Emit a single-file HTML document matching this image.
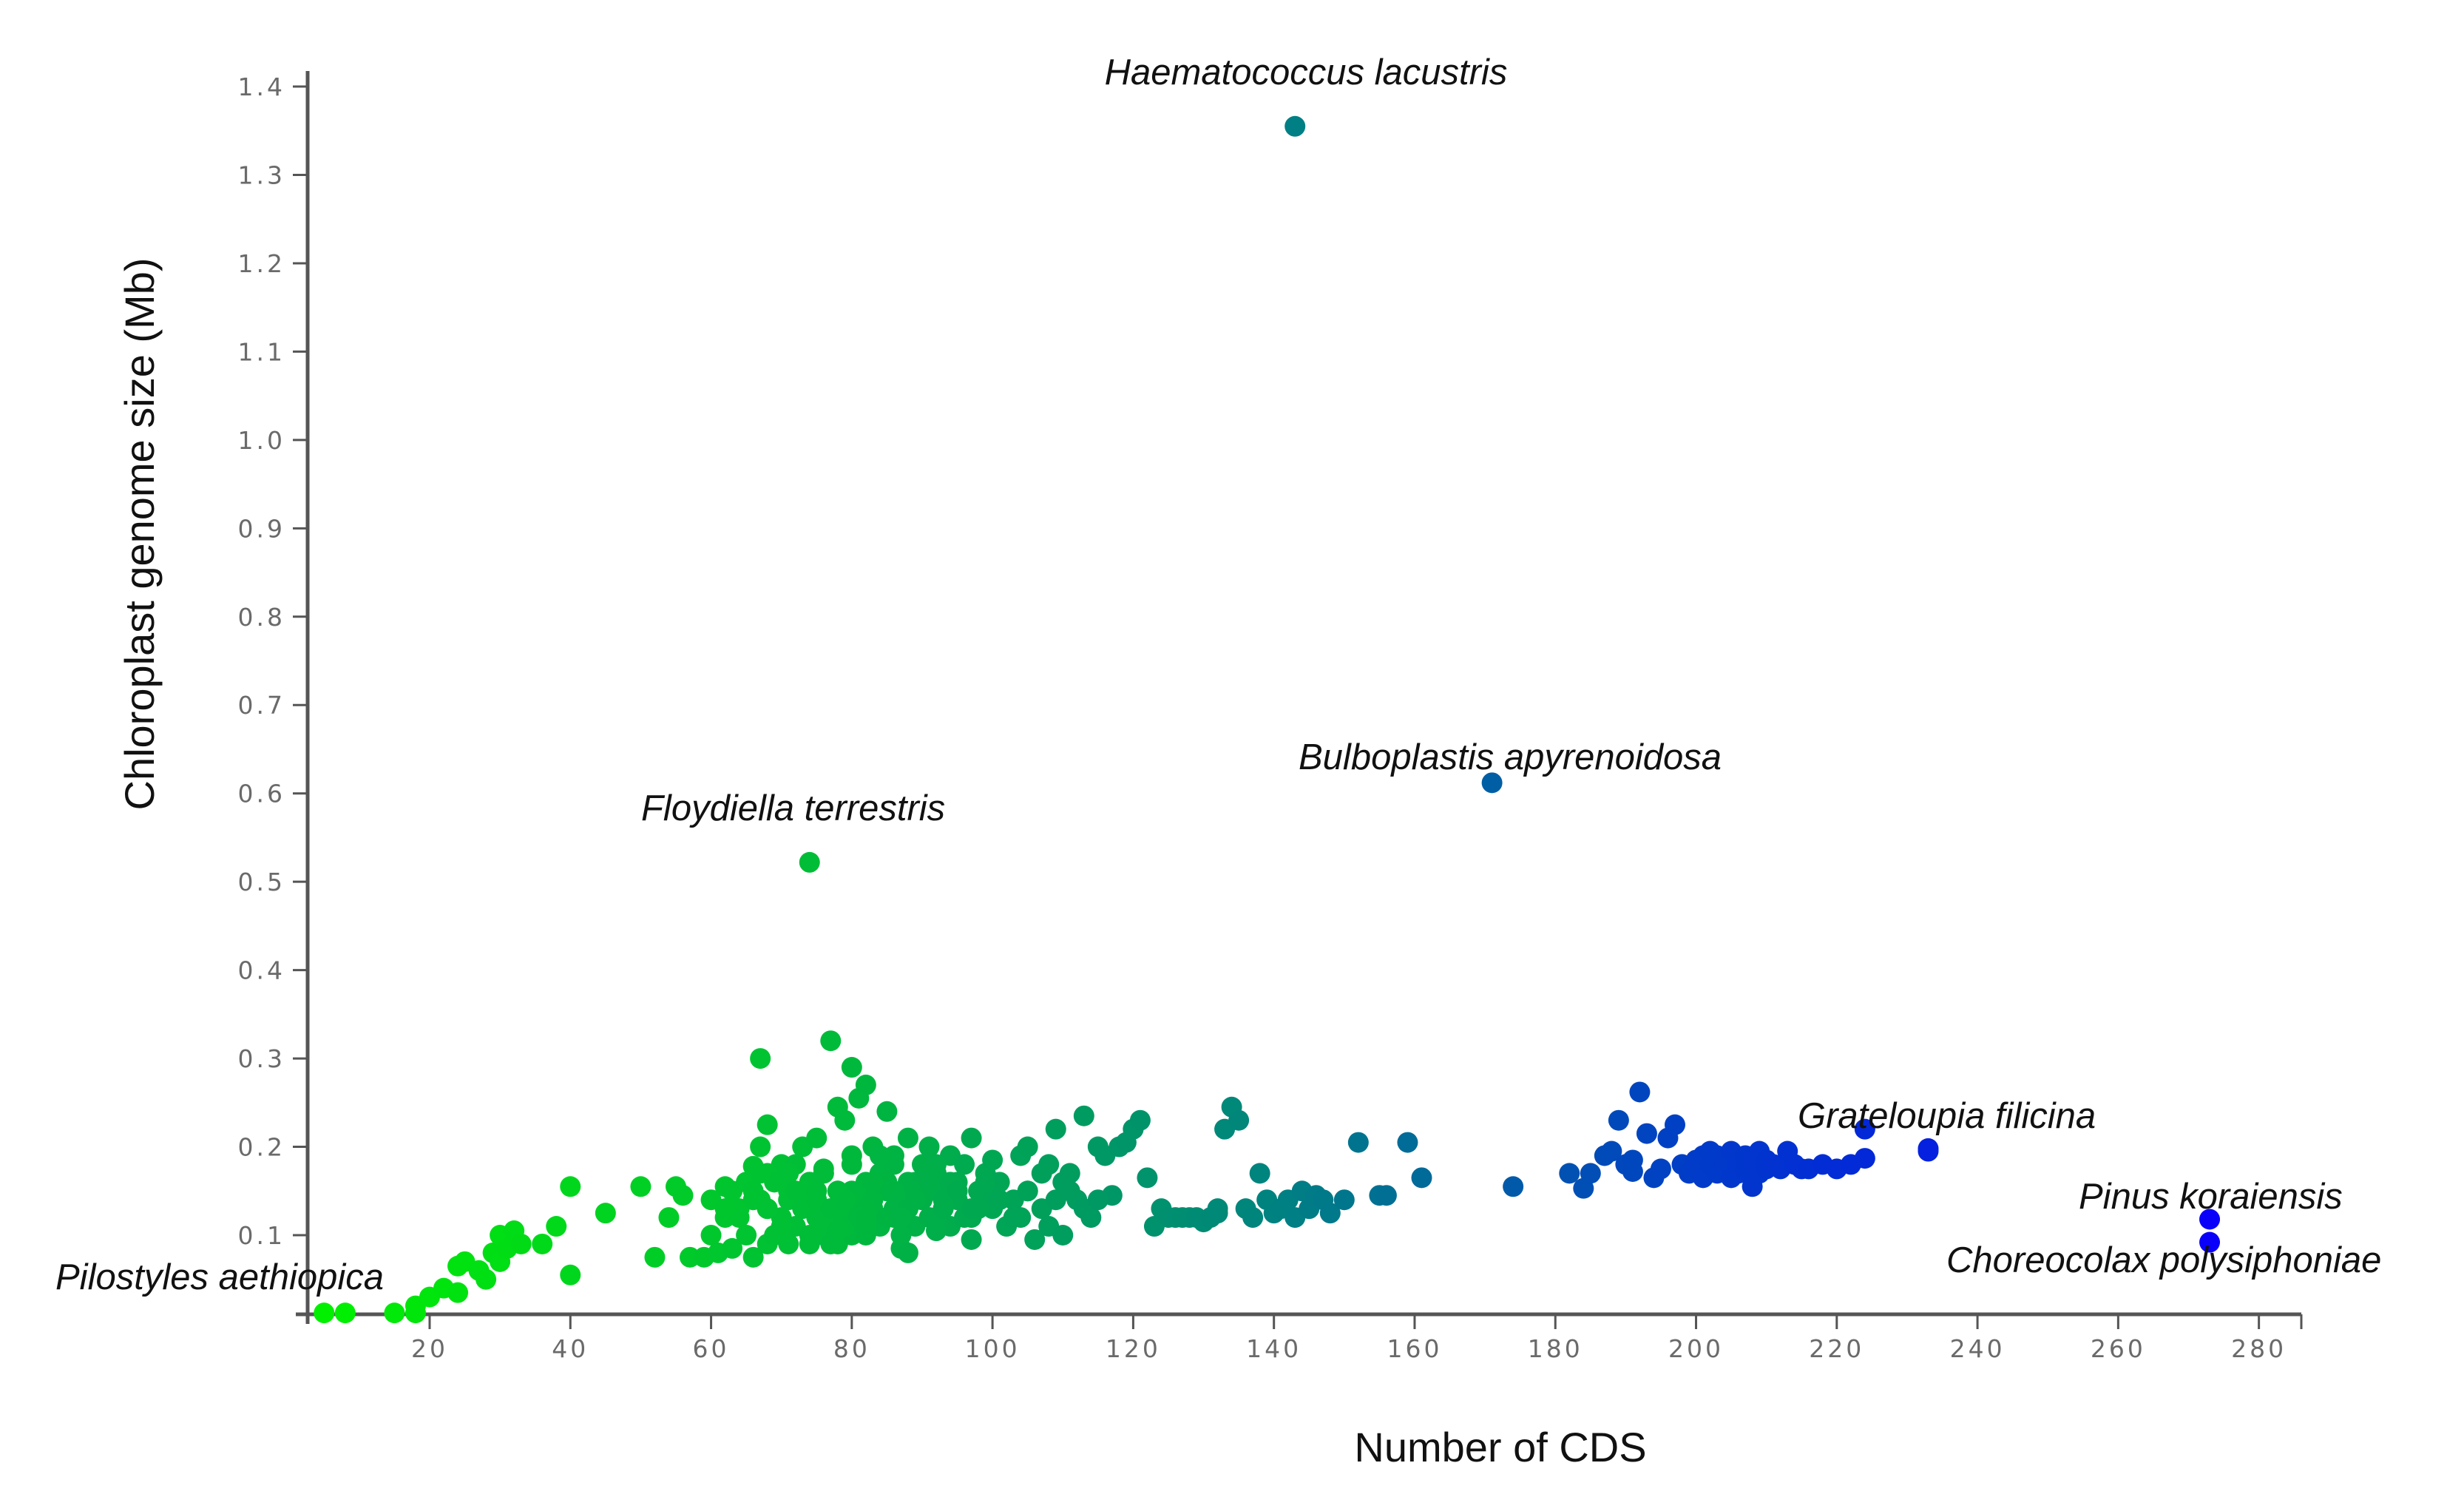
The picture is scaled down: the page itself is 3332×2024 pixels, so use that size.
<!DOCTYPE html>
<html><head><meta charset="utf-8">
<style>
html,body{margin:0;padding:0;background:#fff;}
svg{display:block;}
.tick{font-family:"DejaVu Sans","Liberation Sans",sans-serif;font-size:33px;fill:#6a6a6a;letter-spacing:4px;}
.ann{font-family:"Liberation Sans",sans-serif;font-style:italic;font-size:49px;fill:#111;}
.title{font-family:"Liberation Sans",sans-serif;font-size:56px;fill:#111;}
</style></head>
<body>
<svg id="chart" width="3332" height="2024" viewBox="0 0 3332 2024">
<g id="axes"></g>
<g id="points"></g>
<g id="labels"></g>
</svg>
<script>
const xTicks=[20,40,60,80,100,120,140,160,180,200,220,240,260,280];
const yTicks=[0.1,0.2,0.3,0.4,0.5,0.6,0.7,0.8,0.9,1.0,1.1,1.2,1.3,1.4];
const cdsX=[143,171,74,273,273,224,224,233,233,
5,8,15,18,18,20,22,24,24,25,27,28,29,30,30,31,32,33,36,38,40,40,45,50,52,54,55,56,57,59,60,60,61,62,62,63,64,65,65,66,66,67,67,68,68,68,69,69,70,70,71,71,72,72,73,73,74,74,75,75,76,76,77,77,78,78,78,79,79,80,80,80,81,81,82,82,82,83,83,84,84,85,85,86,86,87,87,88,88,89,89,90,90,91,91,92,92,93,94,94,95,95,96,97,97,98,99,100,100,101,102,103,104,104,105,105,106,107,108,108,109,110,110,111,112,113,114,115,116,117,118,119,120,120,121,122,123,124,125,126,127,128,129,130,131,132,132,133,134,135,136,137,138,139,140,141,142,143,144,145,146,147,148,150,152,155,156,159,161,174,182,184,185,187,188,189,190,191,191,192,193,194,195,196,197,198,199,200,200,201,201,202,202,203,203,204,204,205,205,206,206,207,207,208,208,209,209,210,210,211,212,213,214,215,216,218,220,222,66,70,72,76,78,80,84,86,88,92,96,100,68,74,82,90,94,98,63,65,67,71,75,77,79,81,83,85,87,89,91,93,95,97,99,101,103,105,107,109,111,113,115,
64,66,68,70,72,74,76,78,80,82,84,86,88,90,92,69,73,77,81,85,89,93,71,75,79,83,87,91,95,62,67,72,77,82,87,92,97,74,78,82,86,80,84,76,88];
const sizeY=[1.355,0.612,0.522,0.118,0.092,0.22,0.187,0.198,0.195,
0.012,0.012,0.012,0.02,0.012,0.03,0.04,0.035,0.065,0.07,0.06,0.05,0.08,0.1,0.07,0.085,0.105,0.09,0.09,0.11,0.155,0.055,0.125,0.155,0.075,0.12,0.155,0.145,0.075,0.075,0.1,0.14,0.08,0.155,0.12,0.085,0.13,0.16,0.1,0.075,0.14,0.3,0.2,0.225,0.13,0.09,0.17,0.1,0.18,0.12,0.14,0.09,0.15,0.11,0.2,0.13,0.16,0.09,0.21,0.14,0.1,0.17,0.32,0.12,0.245,0.15,0.09,0.23,0.13,0.29,0.18,0.1,0.255,0.14,0.27,0.16,0.1,0.2,0.13,0.17,0.11,0.24,0.15,0.19,0.12,0.14,0.085,0.21,0.13,0.16,0.11,0.18,0.14,0.2,0.12,0.17,0.15,0.13,0.19,0.11,0.16,0.14,0.18,0.21,0.12,0.15,0.17,0.13,0.185,0.16,0.11,0.14,0.19,0.12,0.2,0.15,0.095,0.13,0.18,0.11,0.22,0.16,0.1,0.17,0.14,0.235,0.12,0.2,0.19,0.145,0.2,0.205,0.22,0.22,0.23,0.165,0.11,0.13,0.12,0.12,0.12,0.12,0.12,0.115,0.12,0.125,0.13,0.22,0.245,0.23,0.13,0.12,0.17,0.14,0.125,0.13,0.14,0.12,0.15,0.13,0.145,0.14,0.125,0.14,0.205,0.145,0.145,0.205,0.165,0.155,0.17,0.153,0.17,0.19,0.195,0.23,0.18,0.172,0.185,0.262,0.215,0.165,0.175,0.21,0.225,0.18,0.17,0.185,0.175,0.19,0.165,0.195,0.18,0.17,0.19,0.175,0.185,0.165,0.195,0.18,0.17,0.19,0.175,0.155,0.185,0.17,0.195,0.175,0.185,0.18,0.175,0.195,0.18,0.175,0.175,0.18,0.175,0.18,0.178,0.178,0.18,0.175,0.12,0.15,0.17,0.13,0.16,0.18,0.12,0.14,0.17,0.15,0.13,0.16,0.16,0.13,0.15,0.16,0.14,0.15,0.12,0.13,0.11,0.15,0.14,0.12,0.13,0.15,0.16,0.14,0.15,0.13,0.16,0.14,0.12,0.15,0.17,0.14,0.15,0.13,0.14,0.12,0.15,0.13,
0.11,0.15,0.16,0.12,0.15,0.14,0.13,0.16,0.15,0.13,0.14,0.12,0.16,0.15,0.13,0.12,0.16,0.14,0.13,0.17,0.15,0.14,0.16,0.12,0.17,0.15,0.13,0.17,0.15,0.09,0.11,0.10,0.105,0.095,0.10,0.105,0.12,0.18,0.19,0.19,0.17,0.08,0.09,0.095,0.1];
const annText=["Haematococcus lacustris","Bulboplastis apyrenoidosa","Floydiella terrestris","Grateloupia filicina","Pinus koraiensis","Choreocolax polysiphoniae","Pilostyles aethiopica"];
const NS="http://www.w3.org/2000/svg";
const XPU=9.514;
const YPU=1194.6;
function sx(v){return 581+(v-20)*XPU;}
function sy(v){return 1670-(v-0.1)*YPU;}
function col(x){
  const stops=[[5,[0,240,0]],[80,[0,185,60]],[140,[0,130,128]],[200,[0,60,200]],[273,[10,0,250]]];
  for(let i=0;i<stops.length-1;i++){const a=stops[i],b=stops[i+1];
    if(x<=b[0]){const t=Math.max(0,(x-a[0])/(b[0]-a[0]));const c=a[1].map((v,k)=>Math.round(v+(b[1][k]-v)*t));return `rgb(${c})`;}}
  return 'rgb(10,0,250)';
}
function mk(tag,attrs,parent,text){const e=document.createElementNS(NS,tag);for(const k in attrs)e.setAttribute(k,attrs[k]);if(text!==undefined)e.textContent=text;parent.appendChild(e);return e;}
const axes=document.getElementById('axes');
let e;
e=mk('line',{x1:416,y1:96,x2:416,y2:1790,stroke:'#555','stroke-width':5},axes);


e=mk('line',{x1:400,y1:1777,x2:3112,y2:1777,stroke:'#555','stroke-width':5},axes);


xTicks.forEach(t=>{const x=sx(t);
  e=mk('line',{x1:x,y1:1777,x2:x,y2:1797,stroke:'#555','stroke-width':3},axes);
  
  
  e=mk('text',{x:x,y:1835,'text-anchor':'middle',class:'tick'},axes,String(t));
  
  
});
e=mk('line',{x1:3112,y1:1777,x2:3112,y2:1797,stroke:'#555','stroke-width':3},axes);


yTicks.forEach(t=>{const y=sy(t);
  e=mk('line',{x1:396,y1:y,x2:416,y2:y,stroke:'#555','stroke-width':3},axes);
  
  
  e=mk('text',{x:386,y:y+12,'text-anchor':'end',class:'tick'},axes,t.toFixed(1));
  
  
});
const pts=document.getElementById('points');
for(let i=0;i<cdsX.length;i++){
  e=mk('circle',{cx:sx(cdsX[i]),cy:sy(sizeY[i]),r:14,fill:col(cdsX[i])},pts);
  
  
}
const lab=document.getElementById('labels');
const annPos=[[1766,114,'middle'],[1756,1040,'start'],[867,1109,'start'],[2431,1525,'start'],[2811,1634,'start'],[2632,1720,'start'],[75,1743,'start']];
annText.forEach((t,i)=>{
  e=mk('text',{x:annPos[i][0],y:annPos[i][1],'text-anchor':annPos[i][2],class:'ann'},lab,t);
  
  
});
e=mk('text',{x:2029,y:1976,'text-anchor':'middle',class:'title'},lab,'Number of CDS');


e=mk('text',{x:0,y:0,'text-anchor':'middle',class:'title',transform:'translate(208,722) rotate(-90)'},lab,'Chloroplast genome size (Mb)');


</script>
</body></html>
